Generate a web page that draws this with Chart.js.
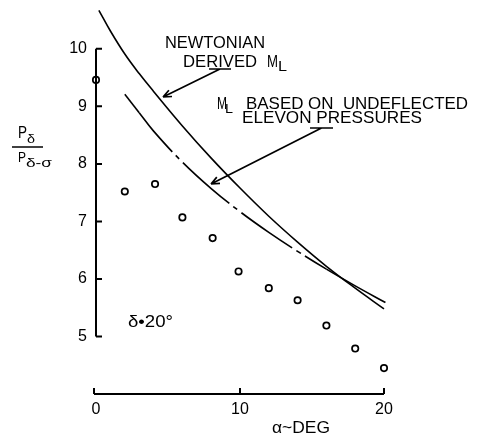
<!DOCTYPE html>
<html>
<head>
<meta charset="utf-8">
<script src="https://cdn.jsdelivr.net/npm/chart.js@4"></script>
<style>
    html, body { margin: 0; padding: 0; background: #fff; }
</style>
</head>
<body>
<canvas id="chart" width="481" height="441"></canvas>
<script>
// test points, alpha (deg) vs pressure ratio
const testAlpha = [0, 2, 4.1, 6, 8.1, 9.9, 12, 14, 16, 18, 20];
const testRatio = [9.46, 7.52, 7.65, 7.07, 6.71, 6.13, 5.84, 5.63, 5.19, 4.79, 4.45];

// Newtonian derived ML curve
const newtonAlpha = [0.2, 1, 2, 3, 4, 6, 8, 10, 12, 14, 16, 18, 20];
const newtonRatio = [10.67, 10.31, 9.91, 9.57, 9.26, 8.66, 8.1, 7.58, 7.09, 6.64, 6.22, 5.84, 5.48];

// ML based on undeflected elevon pressures
const undeflAlpha = [2, 3, 4, 6, 8, 10, 12, 14, 16, 18, 20.1];
const undeflRatio = [9.21, 8.89, 8.57, 8.03, 7.57, 7.17, 6.81, 6.48, 6.17, 5.88, 5.59];

const xTicks = [0, 10, 20];
const yTicks = [5, 6, 7, 8, 9, 10];

const FONT = '"Liberation Sans", Arial, sans-serif';

const toPoints = (xs, ys) => xs.map((x, i) => ({ x: x, y: ys[i] }));

// the broken line is solid at both ends, dash-dot in between
const solidTail = undeflAlpha.findIndex(v => v >= 16);
const isSolid = c => c.p0DataIndex === 0 || c.p0DataIndex >= solidTail;

// draws text squeezed/stretched to a given width
function fitText(ctx, str, left, base, width, size) {
    ctx.font = size + 'px ' + FONT;
    const w = ctx.measureText(str).width;
    ctx.save();
    ctx.translate(left, base);
    ctx.scale(width / w, 1);
    ctx.textAlign = 'left';
    ctx.textBaseline = 'alphabetic';
    ctx.fillText(str, 0, 0);
    ctx.restore();
}

function leader(ctx, ux1, ux2, uy, tx, ty) {
    const sx = (ux1 + ux2) / 2;
    ctx.beginPath();
    ctx.moveTo(ux1, uy); ctx.lineTo(ux2, uy);
    ctx.moveTo(sx, uy); ctx.lineTo(tx, ty);
    // arrow barbs
    const ang = Math.atan2(ty - uy, tx - sx);
    [0.4, -0.4].forEach(d => {
        ctx.moveTo(tx, ty);
        ctx.lineTo(tx - 9 * Math.cos(ang + d), ty - 9 * Math.sin(ang + d));
    });
    ctx.stroke();
}

const annotations = {
    id: 'annotations',
    afterDraw(chart) {
        const ctx = chart.ctx;
        const xs = chart.scales.x, ys = chart.scales.y;
        ctx.save();
        ctx.strokeStyle = '#000';
        ctx.fillStyle = '#000';
        ctx.lineWidth = 2;

        // y axis, only from 5 to 10
        const px0 = xs.getPixelForValue(0);
        ctx.beginPath();
        ctx.moveTo(px0, ys.getPixelForValue(10));
        ctx.lineTo(px0, ys.getPixelForValue(5));
        yTicks.forEach(v => {
            const py = ys.getPixelForValue(v);
            ctx.moveTo(px0, py);
            ctx.lineTo(px0 + 6, py);
        });
        // x axis along the bottom
        const pyb = ys.getPixelForValue(ys.min);
        ctx.moveTo(xs.getPixelForValue(xTicks[0]) - 2, pyb);
        ctx.lineTo(xs.getPixelForValue(xTicks[xTicks.length - 1]), pyb);
        xTicks.forEach(v => {
            const px = xs.getPixelForValue(v) - (v === 0 ? 2 : 0);
            ctx.moveTo(px, pyb);
            ctx.lineTo(px, pyb - 6);
        });
        ctx.stroke();

        // y title
        fitText(ctx, 'P', 18, 138, 9, 16);
        fitText(ctx, 'δ', 27, 143, 8, 13);
        ctx.lineWidth = 1.5;
        ctx.beginPath();
        ctx.moveTo(12, 147); ctx.lineTo(43, 147);
        ctx.stroke();
        fitText(ctx, 'P', 18, 162, 8, 15);
        fitText(ctx, 'δ-σ', 26, 167, 26, 13);

        // x title
        fitText(ctx, 'α~DEG', 272, 433, 58, 17);

        // curve labels
        fitText(ctx, 'NEWTONIAN', 165, 48, 100, 17);
        fitText(ctx, 'DERIVED', 183, 67, 74, 17);
        fitText(ctx, 'M', 267, 67, 11, 17);
        fitText(ctx, 'L', 278, 71, 9, 14);

        fitText(ctx, 'M', 217, 109, 10, 16);
        fitText(ctx, 'L', 225, 113, 8, 13);
        fitText(ctx, 'BASED ON  UNDEFLECTED', 246, 109, 222, 17);
        fitText(ctx, 'ELEVON PRESSURES', 242, 123, 180, 17);

        fitText(ctx, 'δ•20°', 128, 327, 45, 17);

        ctx.lineWidth = 1.7;
        leader(ctx, 209, 231, 69, 163, 97);
        leader(ctx, 310, 333, 128, 211, 184);
        ctx.restore();
    }
};

new Chart(document.getElementById('chart'), {
    type: 'scatter',
    data: {
        datasets: [{
            label: 'Test',
            data: toPoints(testAlpha, testRatio),
            showLine: false,
            pointRadius: 3.2,
            pointBorderWidth: 1.7,
            pointBorderColor: '#000',
            pointBackgroundColor: '#fff',
            clip: false
        }, {
            label: 'Newtonian derived ML',
            data: toPoints(newtonAlpha, newtonRatio),
            showLine: true,
            borderColor: '#000',
            borderWidth: 1.6,
            pointRadius: 0,
            tension: 0.4,
            clip: false
        }, {
            label: 'ML based on undeflected elevon pressures',
            data: toPoints(undeflAlpha, undeflRatio),
            showLine: true,
            borderColor: '#000',
            borderWidth: 1.6,
            pointRadius: 0,
            tension: 0.4,
            segment: {
                borderDash: c => isSolid(c) ? [] : [62, 5, 5, 5],
                borderDashOffset: c => isSolid(c) ? 0 : 10.6
            },
            clip: false
        }]
    },
    options: {
        responsive: false,
        animation: false,
        layout: { padding: { left: 0, right: 97, top: 0, bottom: 0 } },
        plugins: {
            legend: { display: false },
            tooltip: { enabled: false }
        },
        scales: {
            x: {
                type: 'linear',
                min: 0,
                max: 20,
                afterBuildTicks: s => { s.ticks = xTicks.map(v => ({ value: v })); },
                afterFit: s => { s.height = 47; s.paddingLeft = 0; s.paddingRight = 0; },
                grid: { display: false, drawTicks: false },
                border: { display: false },
                ticks: {
                    color: '#000',
                    padding: 6,
                    maxRotation: 0,
                    font: { family: FONT, size: 16 }
                }
            },
            y: {
                type: 'linear',
                min: 4,
                max: 10.75,
                afterBuildTicks: s => { s.ticks = yTicks.map(v => ({ value: v })); },
                afterFit: s => { s.width = 96; s.paddingTop = 0; s.paddingBottom = 0; },
                grid: { display: false, drawTicks: false },
                border: { display: false },
                ticks: {
                    color: '#000',
                    padding: 9,
                    font: { family: FONT, size: 16 }
                }
            }
        }
    },
    plugins: [annotations]
});
</script>
</body>
</html>
